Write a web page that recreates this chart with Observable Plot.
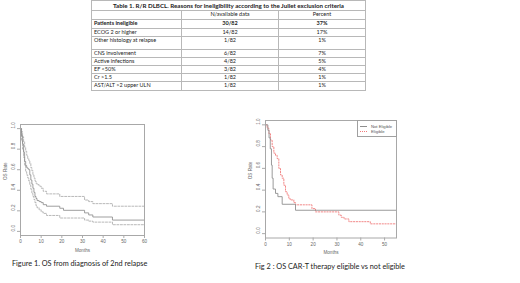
<!DOCTYPE html>
<html>
<head>
<meta charset="utf-8">
<script src="https://cdn.jsdelivr.net/npm/d3@7"></script>
<script src="https://cdn.jsdelivr.net/npm/@observablehq/plot@0.6"></script>
<style>
html, body { margin: 0; padding: 0; background: #fff; }
#page { position: relative; width: 520px; height: 283px; overflow: hidden; font-family: Lato, "Open Sans", sans-serif; color: #222; }
#tbl { position: absolute; left: 91px; top: 0px; border-collapse: collapse; table-layout: fixed; width: 274px; }
#tbl td { border: 1px solid #b8b8b8; padding: 0 2px; font-size: 5.5px; line-height: 7px; vertical-align: top; white-space: nowrap; overflow: hidden; }
#tbl td.c { text-align: center; }
#tbl tr { height: 8px; }
#tbl tr.title td { font-weight: bold; font-size: 6.2px; text-align: center; line-height: 9px; }
#tbl tr.title { height: 10px; }
#tbl tr.head { height: 9px; }
#tbl tr.bold td { font-weight: bold; }
#tbl tr.r0 { height: 9px; }
#tbl tr.tall { height: 13px; }
#tbl tr.last { height: 9px; }
.plotbox { position: absolute; }
.caption { position: absolute; font-size: 7.3px; line-height: 9px; white-space: nowrap; color: #222; }
#legend { position: absolute; left: 357px; top: 120px; width: 38px; height: 15px; border: 1px solid #a0a0a0; background: #fff; font-family: "Liberation Sans", Arial, sans-serif; font-size: 4.2px; color: #555; }
#legend .row { position: absolute; left: 2px; height: 5px; line-height: 5px; white-space: nowrap; }
#legend .swatch { display: inline-block; width: 7px; height: 0; vertical-align: middle; margin-right: 4px; }
</style>
</head>
<body>
<div id="page">
  <table id="tbl"></table>
  <div id="fig1" class="plotbox" style="left:0px; top:115px;"></div>
  <div id="fig2" class="plotbox" style="left:245px; top:115px;"></div>
  <div id="legend"></div>
  <div id="cap1" class="caption" style="left:12px; top:258.5px;"></div>
  <div id="cap2" class="caption" style="left:255px; top:262px;"></div>
</div>
<script>
// ---------- Table data ----------
const tableTitle = "Table 1. R/R DLBCL. Reasons for ineligibility according to the Juliet exclusion criteria";
const columnHeaders = ["", "N/available data", "Percent"];
const reasons = ["Patients ineligible", "ECOG 2 or higher", "Other histology at relapse", "CNS involvement", "Active infections", "EF <50%", "Cr >1.5", "AST/ALT >2 upper ULN"];
const counts = ["30/82", "14/82", "1/82", "6/82", "4/82", "3/82", "1/82", "1/82"];
const percents = ["37%", "17%", "1%", "7%", "5%", "4%", "1%", "1%"];

// ---------- Figure 1: OS from diagnosis of 2nd relapse ----------
const fig1Months = [0, 0.5, 1, 1.5, 2, 2.5, 3, 3.5, 4, 4.5, 5, 5.5, 6, 6.5, 7, 7.5, 8, 9, 10, 11, 12.6, 19, 20.8, 31, 33, 35, 44.5, 60];
const fig1OS     = [1, 0.93, 0.85, 0.77, 0.68, 0.64, 0.62, 0.61, 0.60, 0.55, 0.50, 0.46, 0.42, 0.38, 0.34, 0.32, 0.30, 0.29, 0.28, 0.26, 0.245, 0.225, 0.205, 0.18, 0.16, 0.14, 0.11, 0.11];
const fig1Upper  = [1, 0.97, 0.92, 0.87, 0.82, 0.78, 0.74, 0.71, 0.69, 0.66, 0.62, 0.59, 0.55, 0.52, 0.49, 0.47, 0.455, 0.44, 0.42, 0.39, 0.365, 0.34, 0.34, 0.305, 0.29, 0.27, 0.245, 0.245];
const fig1Lower  = [1, 0.88, 0.80, 0.72, 0.64, 0.58, 0.55, 0.52, 0.49, 0.45, 0.41, 0.37, 0.34, 0.31, 0.28, 0.25, 0.23, 0.21, 0.19, 0.175, 0.155, 0.13, 0.13, 0.11, 0.10, 0.09, 0.065, 0.065];
const fig1XTicks = [0, 10, 20, 30, 40, 50, 60];

// ---------- Figure 2: OS CAR-T eligible vs not eligible ----------
const fig2Series = ["Not Eligible", "Eligible"];
const notEligibleMonths = [0, 1, 1.5, 2, 2.5, 2.8, 3.2, 4.2, 5.2, 7.0, 12.6, 55];
const notEligibleOS     = [1, 0.95, 0.88, 0.78, 0.63, 0.51, 0.41, 0.37, 0.34, 0.27, 0.215, 0.215];
const eligibleMonths = [0, 0.7, 1.4, 2.1, 2.8, 3.5, 4.2, 4.9, 5.6, 6.3, 7.0, 7.7, 8.4, 9.1, 9.8, 10.5, 11.9, 12.6, 19.5, 21, 30.8, 31.8, 33, 35, 44, 55];
const eligibleOS     = [1, 0.97, 0.92, 0.86, 0.80, 0.74, 0.72, 0.69, 0.60, 0.54, 0.51, 0.445, 0.385, 0.355, 0.32, 0.31, 0.285, 0.265, 0.23, 0.20, 0.17, 0.15, 0.135, 0.11, 0.09, 0.09];
const fig2XTicks = [0, 10, 20, 30, 40, 50];

const yTicks = [0, 0.2, 0.4, 0.6, 0.8, 1.0];
const yLabel = "OS Rate";
const xLabel = "Months";
const captions = ["Figure 1. OS from diagnosis of 2nd relapse", "Fig 2 : OS CAR-T therapy eligible vs not eligible"];

// ---------- Table ----------
const tbl = document.getElementById("tbl");
const colgroup = document.createElement("colgroup");
[90, 97, 87].forEach(w => { const c = document.createElement("col"); c.style.width = w + "px"; colgroup.appendChild(c); });
tbl.appendChild(colgroup);
const trT = tbl.insertRow(); trT.className = "title";
const tdT = trT.insertCell(); tdT.colSpan = 3; tdT.textContent = tableTitle;
const trH = tbl.insertRow(); trH.className = "head";
columnHeaders.forEach((h, i) => { const td = trH.insertCell(); td.textContent = h; if (i) td.className = "c"; });
reasons.forEach((r, i) => {
  const tr = tbl.insertRow();
  const cls = [];
  if (i === 0) cls.push("bold", "r0");
  if (r === "Other histology at relapse") cls.push("tall");
  if (i === reasons.length - 1) cls.push("last");
  tr.className = cls.join(" ");
  [r, counts[i], percents[i]].forEach((v, j) => { const td = tr.insertCell(); td.textContent = v; if (j) td.className = "c"; });
});

// ---------- KM plots ----------
const gray = "#8e8e8e";
const ciGray = "#a6a6a6";
const red = "#f07a7a";
function kmPlot({lines, xDomain, xTicks, width, height, margins}) {
  return Plot.plot({
    width, height, ...margins,
    x: {domain: xDomain},
    y: {domain: [-0.04, 1.04]},
    style: {fontFamily: "'Liberation Sans', Arial, sans-serif", fontSize: "4.6px", color: "#666", background: "transparent", overflow: "visible"},
    marks: [
      Plot.axisX({ticks: xTicks, tickSize: 3, tickPadding: 1.5, label: null, stroke: "#aaa", fill: "#666"}),
      Plot.axisY({ticks: yTicks, tickSize: 3, tickFormat: () => "", label: null, stroke: "#aaa"}),
      Plot.text(yTicks, {y: d => d, text: d => d.toFixed(1), frameAnchor: "left", dx: -7, rotate: -90, fill: "#666"}),
      Plot.text([yLabel], {text: d => d, frameAnchor: "left", dx: -15, rotate: -90, fill: "#666"}),
      Plot.text([xLabel], {text: d => d, frameAnchor: "bottom", dy: 16, fill: "#666"}),
      ...lines,
      Plot.frame({stroke: "#a8a8a8"})
    ]
  });
}

const fig1 = kmPlot({
  width: 155, height: 140,
  margins: {marginLeft: 20, marginRight: 11, marginTop: 9, marginBottom: 20},
  xDomain: [0, 60], xTicks: fig1XTicks,
  lines: [
    Plot.line(fig1Months, {x: fig1Months, y: fig1Upper, curve: "step-after", stroke: ciGray, strokeWidth: 0.8, strokeDasharray: "2,1.5"}),
    Plot.line(fig1Months, {x: fig1Months, y: fig1Lower, curve: "step-after", stroke: ciGray, strokeWidth: 0.8, strokeDasharray: "2,1.5"}),
    Plot.line(fig1Months, {x: fig1Months, y: fig1OS, curve: "step-after", stroke: gray, strokeWidth: 0.85})
  ]
});
document.getElementById("fig1").appendChild(fig1);

const fig2 = kmPlot({
  width: 165, height: 140,
  margins: {marginLeft: 20, marginRight: 14, marginTop: 5, marginBottom: 17.5},
  xDomain: [0, 55], xTicks: fig2XTicks,
  lines: [
    Plot.line(eligibleMonths, {x: eligibleMonths, y: eligibleOS, curve: "step-after", stroke: red, strokeWidth: 0.9, strokeDasharray: "1.3,1.5"}),
    Plot.line(notEligibleMonths, {x: notEligibleMonths, y: notEligibleOS, curve: "step-after", stroke: gray, strokeWidth: 0.9})
  ]
});
document.getElementById("fig2").appendChild(fig2);

// ---------- Legend (inside fig 2) ----------
const legend = document.getElementById("legend");
const swatchStyles = ["border-top:1px solid " + gray, "border-top:1px dotted " + red];
fig2Series.forEach((s, i) => {
  const row = document.createElement("div");
  row.className = "row";
  row.style.top = (2.5 + i * 5) + "px";
  row.innerHTML = `<span class="swatch" style="${swatchStyles[i]}"></span>`;
  row.appendChild(document.createTextNode(s));
  legend.appendChild(row);
});

document.getElementById("cap1").textContent = captions[0];
document.getElementById("cap2").textContent = captions[1];
</script>
</body>
</html>
